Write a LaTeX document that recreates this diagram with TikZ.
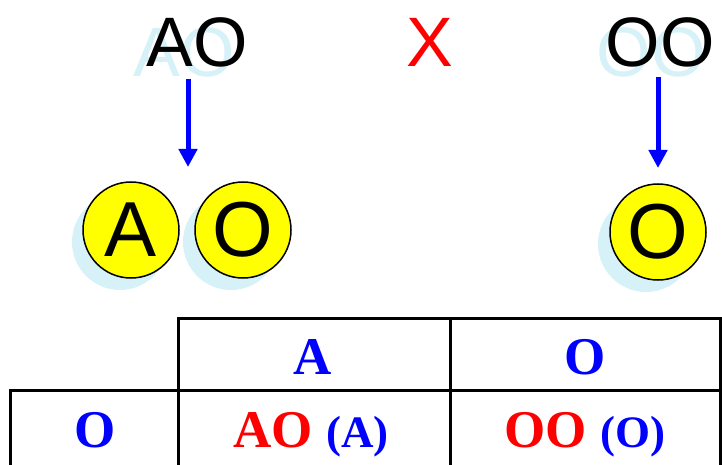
\documentclass[tikz,border=0pt]{standalone}
\usepackage{fontspec}
\setmainfont{Liberation Serif}
\setsansfont{Liberation Sans}
\usetikzlibrary{arrows.meta}

\definecolor{shade}{RGB}{214,241,248}
\definecolor{ball}{RGB}{255,255,0}

\begin{document}
\begin{tikzpicture}[x=1pt, y=-1pt,
    parent/.style={font=\sffamily\fontsize{70}{70}\selectfont, inner sep=0pt},
    pshade/.style={parent, text=shade},
    gamete/.style={circle, draw=black, line width=1.5pt, fill=ball, minimum size=96pt,
        inner sep=0pt, font=\sffamily\fontsize{78}{78}\selectfont},
    gshade/.style={circle, fill=shade, minimum size=96pt, inner sep=0pt},
    pass/.style={draw=blue, line width=5pt, -{Triangle[width=18pt, length=18pt]}},
    grid/.style={line width=3pt, line cap=rect},
    cell/.style={anchor=base, inner sep=0pt, font=\bfseries\fontsize{53}{53}\selectfont}
]
    \useasboundingbox (0,0) rectangle (722,465);

    % parents (light shadow first)
    \node[pshade] (AOs) at (184,52) {AO};
    \node[pshade] (OOs) at (651,52) {OO};
    \node[parent] (AO) at (197,42) {AO};
    \node[parent, text=red] (cross) at (430,42) {X};
    \node[parent] (OO) at (660,42) {OO};

    % gametes
    \node[gshade] (gAs) at (120,242) {};
    \node[gshade] (gOs) at (231,242) {};
    \node[gshade] (gRs) at (646,244) {};
    \node[gamete] (gA) at (131,230) {A};
    \node[gamete] (gO) at (243,230) {O};
    \node[gamete] (gR) at (658,232) {O};

    % arrows
    \coordinate (lt) at (188,79);
    \coordinate (lb) at (188,167);
    \coordinate (rt) at (658,77);
    \coordinate (rb) at (658,168);
    \draw[pass] (lt) -- (lb);
    \draw[pass] (rt) -- (rb);

    % table
    \draw[grid] (178,318) -- (720,318);
    \draw[grid] (10,390) -- (720,390);
    \draw[grid] (10,390) -- (10,470);
    \draw[grid] (178,318) -- (178,470);
    \draw[grid] (450,318) -- (450,470);
    \draw[grid] (720,318) -- (720,470);

    \node[cell, text=blue] (hA) at (313,374) {A};
    \node[cell, text=blue] (hO) at (585,374) {O};
    \node[cell, text=blue] (rO) at (95,447) {O};
    \node[cell] (cAO) at (311,447) {\textcolor{red}{AO} \textcolor{blue}{\fontsize{45}{45}\selectfont(A)}};
    \node[cell] (cOO) at (585,447) {\textcolor{red}{OO} \textcolor{blue}{\fontsize{45}{45}\selectfont(O)}};
\end{tikzpicture}
\end{document}
